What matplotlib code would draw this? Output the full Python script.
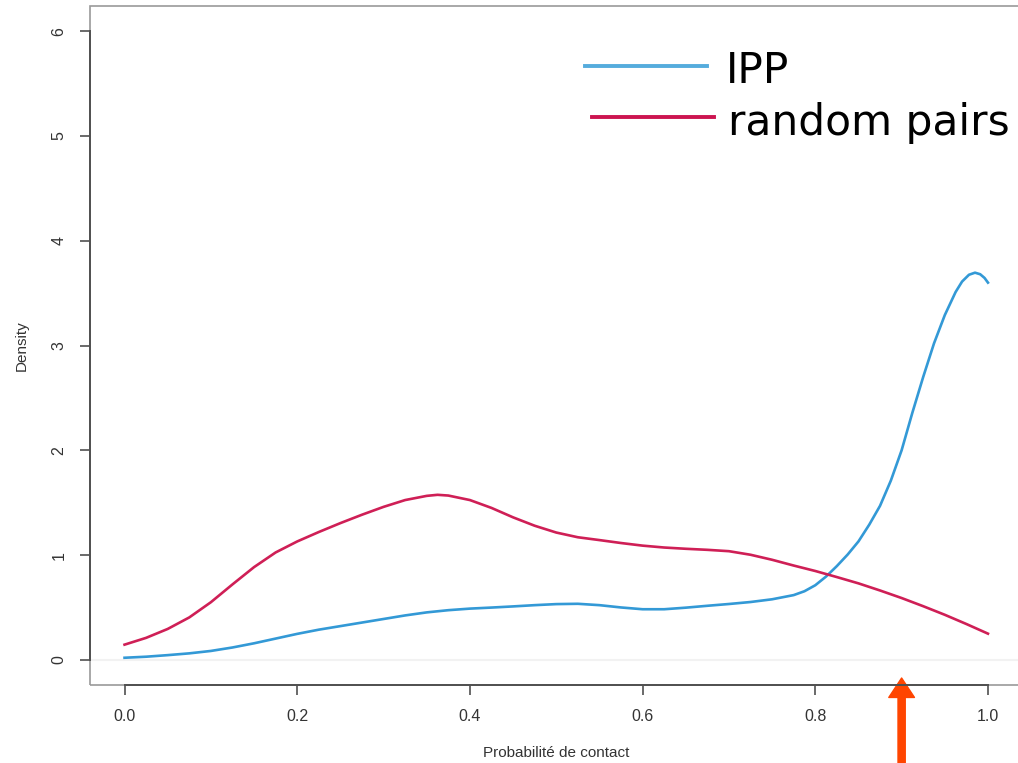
import matplotlib
matplotlib.use("Agg")
import matplotlib.pyplot as plt
from matplotlib.patches import Rectangle

# density estimates, read on a 0..1 grid
x_ipp = [0.000, 0.025, 0.050, 0.075, 0.100, 0.125, 0.150, 0.175, 0.200, 0.225,
         0.250, 0.275, 0.300, 0.325, 0.350, 0.375, 0.400, 0.425, 0.450, 0.475,
         0.500, 0.525, 0.550, 0.575, 0.600, 0.625, 0.650, 0.675, 0.700, 0.725,
         0.750, 0.775, 0.7875, 0.800, 0.8125, 0.825, 0.8375, 0.850, 0.8625, 0.875,
         0.8875, 0.900, 0.9125, 0.925, 0.9375, 0.950, 0.9625, 0.970, 0.978, 0.985,
         0.991, 0.996, 1.000]
y_ipp = [0.02, 0.03, 0.045, 0.062, 0.085, 0.118, 0.158, 0.203, 0.248, 0.288,
         0.322, 0.356, 0.39, 0.424, 0.453, 0.474, 0.489, 0.499, 0.51, 0.522,
         0.532, 0.535, 0.522, 0.50, 0.483, 0.483, 0.498, 0.516, 0.533, 0.552,
         0.578, 0.618, 0.655, 0.712, 0.795, 0.895, 1.005, 1.13, 1.29, 1.47,
         1.71, 2.0, 2.36, 2.70, 3.02, 3.29, 3.51, 3.61, 3.675, 3.695,
         3.68, 3.645, 3.60]

x_rand = [0.000, 0.025, 0.050, 0.075, 0.100, 0.125, 0.150, 0.175, 0.200, 0.225,
          0.250, 0.275, 0.300, 0.325, 0.350, 0.3625, 0.375, 0.400, 0.425, 0.450,
          0.475, 0.500, 0.525, 0.550, 0.575, 0.600, 0.625, 0.650, 0.675, 0.700,
          0.725, 0.750, 0.775, 0.800, 0.825, 0.850, 0.875, 0.900, 0.925, 0.950,
          0.975, 1.000]
y_rand = [0.145, 0.21, 0.295, 0.405, 0.55, 0.72, 0.885, 1.025, 1.13, 1.22,
          1.305, 1.385, 1.46, 1.525, 1.565, 1.575, 1.568, 1.525, 1.45, 1.36,
          1.28, 1.215, 1.17, 1.143, 1.115, 1.09, 1.072, 1.06, 1.05, 1.037,
          1.003, 0.955, 0.90, 0.848, 0.79, 0.73, 0.662, 0.59, 0.512, 0.43,
          0.342, 0.25]

x_ticks = [0.0, 0.2, 0.4, 0.6, 0.8, 1.0]
x_ticklabels = ["0.0", "0.2", "0.4", "0.6", "0.8", "1.0"]
y_ticks = [0, 1, 2, 3, 4, 5, 6]
threshold = 0.9

blue = "#3399d6"
red = "#cf1f56"
W, H = 1018, 763

fig = plt.figure(figsize=(W / 100, H / 100), dpi=100)
ax = fig.add_axes([90 / W, 78 / H, 932.5 / W, 679 / H])
ax.set_xlim(-0.04, 1.04)
ax.set_ylim(-0.24, 6.24)

ax.axhline(0, color="#f2f2f2", lw=1.5, zorder=1)
ax.plot(x_ipp, y_ipp, color=blue, lw=1.9, zorder=3, solid_joinstyle="round")
ax.plot(x_rand, y_rand, color=red, lw=1.9, zorder=3, solid_joinstyle="round")

# R style frame: grey box, darker axis lines between first and last ticks
ax.add_patch(Rectangle((0, 0), 1, 1, transform=ax.transAxes, fill=False,
                       edgecolor="#9a9a9a", lw=1.2, clip_on=False, zorder=2))
for s in ["top", "right"]:
    ax.spines[s].set_visible(False)
ax.spines["left"].set_bounds(0, 6)
ax.spines["bottom"].set_bounds(0, 1)
for s in ["left", "bottom"]:
    ax.spines[s].set_color("#505050")
    ax.spines[s].set_linewidth(1.4)
    ax.spines[s].set_zorder(4)

ax.set_xticks(x_ticks)
ax.set_xticklabels(x_ticklabels)
ax.set_yticks(y_ticks)
ax.set_yticklabels([str(t) for t in y_ticks], rotation=90, va="center")
ax.tick_params(length=7, width=1.2, color="#505050", labelsize=11.5,
               labelcolor="#333333", pad=10)
for lab in ax.get_xticklabels() + ax.get_yticklabels():
    lab.set_family("Liberation Sans")

fig.text(22 / W, 1 - 346 / H, "Density", rotation=90, ha="center", va="center",
         fontsize=11, color="#333333", family="Liberation Sans")
fig.text(556 / W, 1 - 753 / H, "Probabilité de contact", ha="center", va="center",
         fontsize=11, color="#333333", family="Liberation Sans")

# legend drawn by hand
fig.add_artist(plt.Line2D([585 / W, 707 / W], [1 - 66 / H, 1 - 66 / H],
                          color="#55acdd", lw=2.8))
fig.add_artist(plt.Line2D([592 / W, 714 / W], [1 - 117 / H, 1 - 117 / H],
                          color="#cc1450", lw=2.8))
fig.text(726 / W, 1 - 83 / H, "IPP", fontsize=30.4, va="baseline",
         family="DejaVu Sans")
fig.text(728 / W, 1 - 135 / H, "random pairs", fontsize=30.4, va="baseline",
         family="DejaVu Sans")

# marker arrow under the x axis
ax.annotate("", xy=(threshold, 0.0103), xycoords=("data", "axes fraction"),
            xytext=(threshold, -0.13), textcoords=("data", "axes fraction"),
            arrowprops=dict(arrowstyle="simple,head_length=1.4,head_width=1.85,tail_width=0.52",
                            color="#ff4500", mutation_scale=10, shrinkA=0, shrinkB=0),
            annotation_clip=False)

fig.savefig("out.png", dpi=100)
